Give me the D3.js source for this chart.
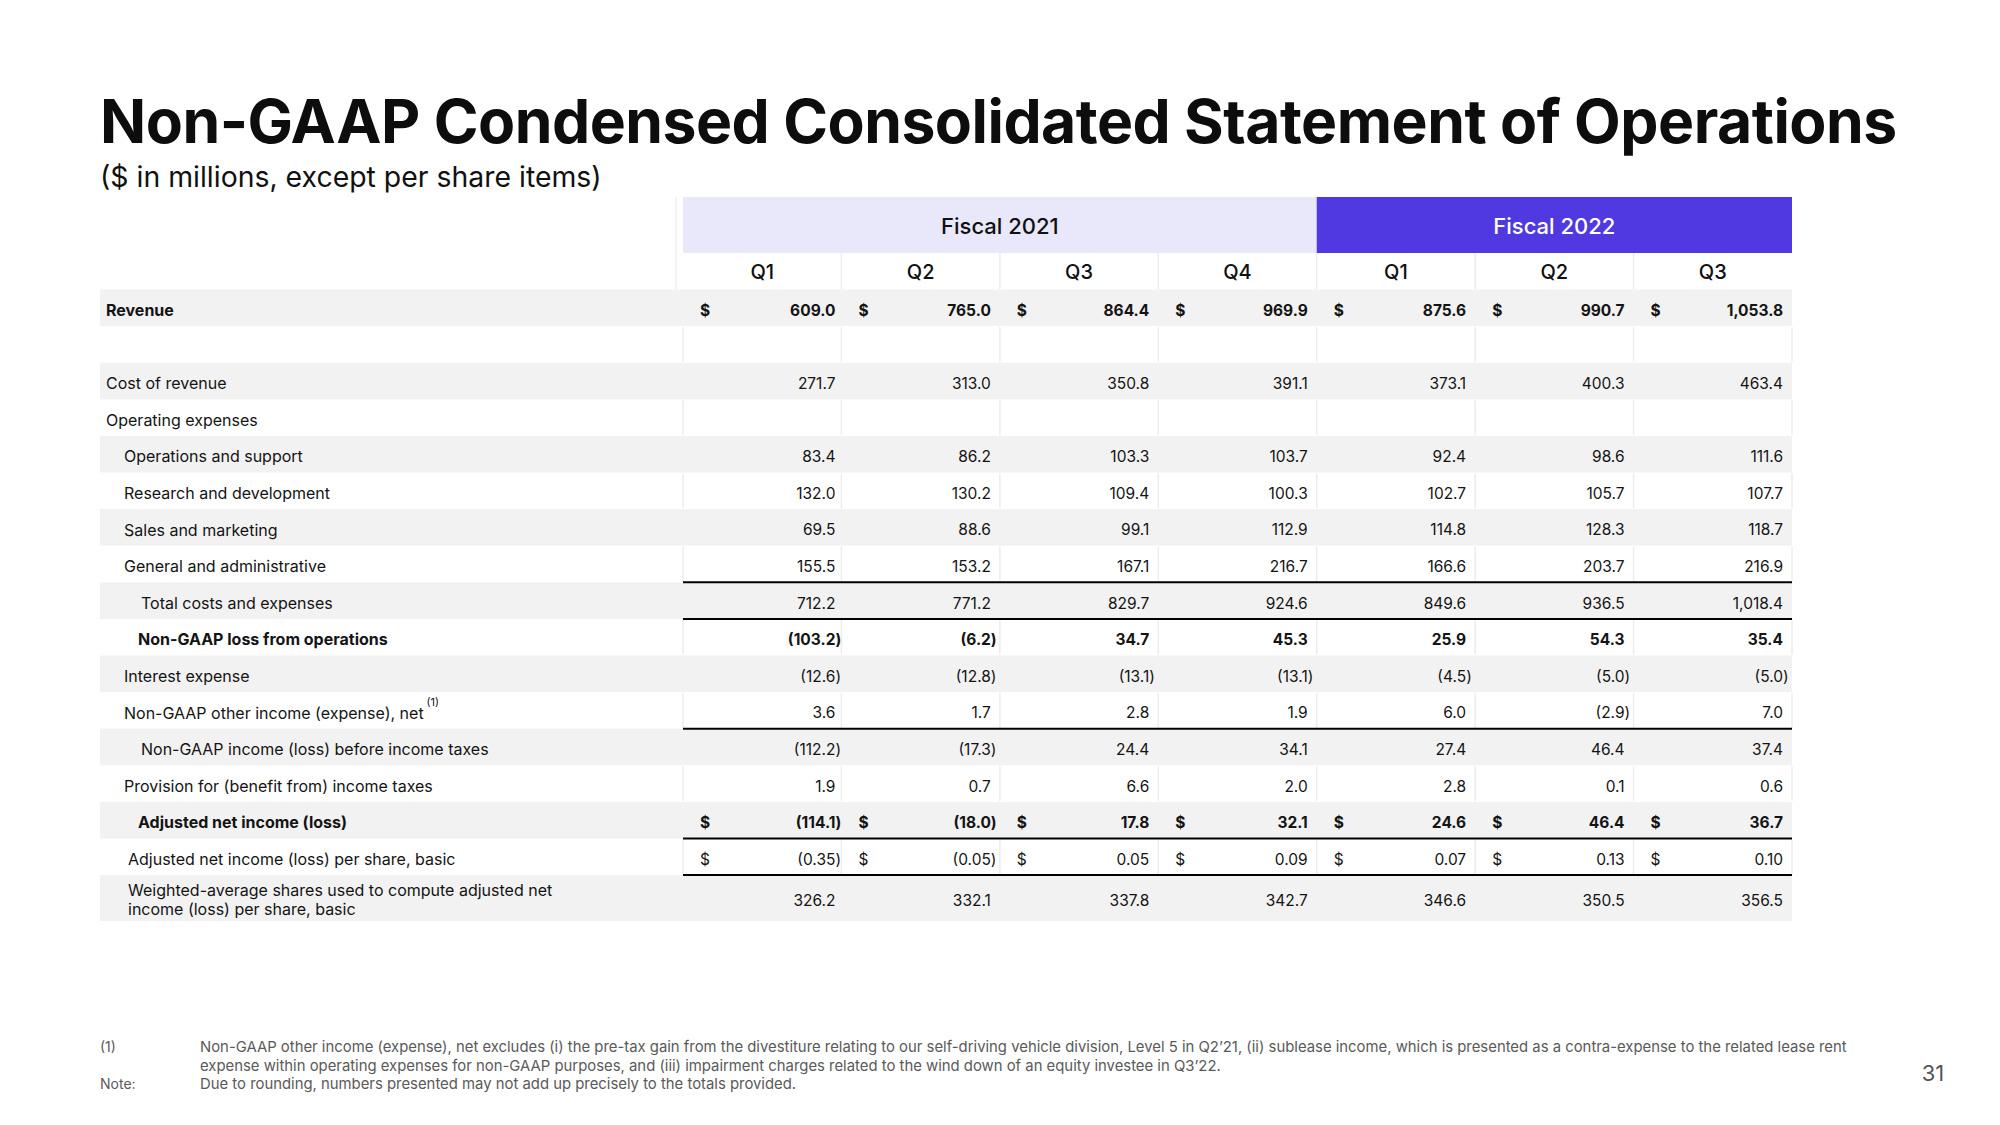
<!DOCTYPE html>
<html><head><meta charset="utf-8">
<script src="https://cdn.jsdelivr.net/npm/d3@7"></script>
<style>
html,body{margin:0;padding:0;background:#fff;}
svg{display:block;}
text{font-family:Inter,"Noto Sans",sans-serif;}
</style></head>
<body>
<svg id="chart" width="2000" height="1125"></svg>
<script>
// ---------- DATA ----------
const title = "Non-GAAP Condensed Consolidated Statement of Operations";
const subtitle = "($ in millions, except per share items)";
const fiscalYears = ["Fiscal 2021", "Fiscal 2022"];
const fiscalSpans = [4, 3];
const quarters = ["Q1", "Q2", "Q3", "Q4", "Q1", "Q2", "Q3"];
const rowLabels = [
  "Revenue", "", "Cost of revenue", "Operating expenses", "Operations and support",
  "Research and development", "Sales and marketing", "General and administrative",
  "Total costs and expenses", "Non-GAAP loss from operations", "Interest expense",
  "Non-GAAP other income (expense), net", "Non-GAAP income (loss) before income taxes",
  "Provision for (benefit from) income taxes", "Adjusted net income (loss)",
  "Adjusted net income (loss) per share, basic",
  "Weighted-average shares used to compute adjusted net|income (loss) per share, basic"
];
const revenue        = [609.0, 765.0, 864.4, 969.9, 875.6, 990.7, 1053.8];
const costOfRevenue  = [271.7, 313.0, 350.8, 391.1, 373.1, 400.3, 463.4];
const opsSupport     = [83.4, 86.2, 103.3, 103.7, 92.4, 98.6, 111.6];
const researchDev    = [132.0, 130.2, 109.4, 100.3, 102.7, 105.7, 107.7];
const salesMarketing = [69.5, 88.6, 99.1, 112.9, 114.8, 128.3, 118.7];
const generalAdmin   = [155.5, 153.2, 167.1, 216.7, 166.6, 203.7, 216.9];
const totalCosts     = [712.2, 771.2, 829.7, 924.6, 849.6, 936.5, 1018.4];
const lossFromOps    = [-103.2, -6.2, 34.7, 45.3, 25.9, 54.3, 35.4];
const interestExp    = [-12.6, -12.8, -13.1, -13.1, -4.5, -5.0, -5.0];
const otherIncome    = [3.6, 1.7, 2.8, 1.9, 6.0, -2.9, 7.0];
const beforeTaxes    = [-112.2, -17.3, 24.4, 34.1, 27.4, 46.4, 37.4];
const provisionTax   = [1.9, 0.7, 6.6, 2.0, 2.8, 0.1, 0.6];
const adjNetIncome   = [-114.1, -18.0, 17.8, 32.1, 24.6, 46.4, 36.7];
const perShareBasic  = [-0.35, -0.05, 0.05, 0.09, 0.07, 0.13, 0.10];
const weightedShares = [326.2, 332.1, 337.8, 342.7, 346.6, 350.5, 356.5];
const footnote1 = [
  "Non-GAAP other income (expense), net excludes (i) the pre-tax gain from the divestiture relating to our self-driving vehicle division, Level 5 in Q2\u201921, (ii) sublease income, which is presented as a contra-expense to the related lease rent",
  "expense within operating expenses for non-GAAP purposes, and (iii) impairment charges related to the wind down of an equity investee in Q3\u201922."
];
const noteText = "Due to rounding, numbers presented may not add up precisely to the totals provided.";
const pageNumber = "31";

// ---------- TABLE MODEL ----------
const rowValues = [revenue, null, costOfRevenue, null, opsSupport, researchDev, salesMarketing,
  generalAdmin, totalCosts, lossFromOps, interestExp, otherIncome, beforeTaxes, provisionTax,
  adjNetIncome, perShareBasic, weightedShares];
// style config (layout only)
const indentX = [106, 106, 106, 106, 124, 124, 124, 124, 141, 138, 124, 124, 141, 124, 138, 128, 128];
const boldRows = new Set([0, 9, 14]);
const dollarRows = new Set([0, 14, 15]);
const decimals2 = new Set([15]);
const ruleAboveRows = [8, 9, 12, 15, 16];

const svg = d3.select("#chart");

// ---------- SCALES ----------
const x = d3.scaleBand().domain(d3.range(quarters.length)).range([683, 1792]).padding(0);
const rowH = 36.6, top0 = 289.5, lastH = 46;
const y = d3.scaleBand().domain(d3.range(16)).range([top0, top0 + 16 * rowH]).padding(0);
const rowTop = i => i < 16 ? y(i) : top0 + 16 * rowH;
const rowHeight = i => i < 16 ? y.bandwidth() : lastH;
const textShift = 2.5;

// ---------- TITLE ----------
function fitText(sel, width) {
  const w = sel.node().getComputedTextLength();
  const fs = parseFloat(sel.attr("font-size"));
  sel.attr("font-size", fs * width / w);
}
const t = svg.append("text").attr("x", 100).attr("y", 143).attr("font-size", 56)
  .attr("font-weight", 700).attr("fill", "#0d0d0d").attr("letter-spacing", -0.5).text(title);
fitText(t, 1795);
const st = svg.append("text").attr("x", 100).attr("y", 187).attr("font-size", 27)
  .attr("fill", "#111").text(subtitle);
fitText(st, 502);

// ---------- HEADER ----------
let colStart = 0;
fiscalYears.forEach((fy, k) => {
  const x0 = x(colStart), x1 = x(colStart + fiscalSpans[k] - 1) + x.bandwidth();
  svg.append("rect").attr("x", x0).attr("y", 197).attr("width", x1 - x0).attr("height", 56)
    .attr("fill", k === 0 ? "#e8e8fa" : "#5139e1");
  svg.append("text").attr("x", (x0 + x1) / 2).attr("y", 226).attr("dy", "0.35em")
    .attr("text-anchor", "middle").attr("font-size", 22).attr("font-weight", 500)
    .attr("fill", k === 0 ? "#111" : "#fff").text(fy);
  colStart += fiscalSpans[k];
});
svg.selectAll(".qlbl").data(quarters).join("text").attr("class", "qlbl")
  .attr("x", (d, i) => x(i) + x.bandwidth() / 2).attr("y", 272).attr("dy", "0.35em")
  .attr("text-anchor", "middle").attr("font-size", 20).attr("font-weight", 500)
  .attr("fill", "#111").text(d => d);
svg.selectAll(".qdiv").data(d3.range(1, quarters.length)).join("line").attr("class", "qdiv")
  .attr("x1", i => x(i)).attr("x2", i => x(i)).attr("y1", 253).attr("y2", 289)
  .attr("stroke", "#ececec").attr("stroke-width", 1.5);
svg.append("line").attr("x1", 676).attr("x2", 676).attr("y1", 197).attr("y2", 289)
  .attr("stroke", "#f0f0f0").attr("stroke-width", 1.5);

// ---------- ROW BACKGROUNDS ----------
const allRows = d3.range(rowLabels.length);
svg.selectAll(".rowbg").data(allRows.filter(i => i % 2 === 0)).join("rect").attr("class", "rowbg")
  .attr("x", 100).attr("y", i => rowTop(i)).attr("width", 1792 - 100).attr("height", i => rowHeight(i))
  .attr("fill", "#f2f2f2");
// faint dividers in white rows
allRows.filter(i => i % 2 === 1).forEach(i => {
  svg.selectAll(null).data(d3.range(0, quarters.length + 1)).join("line")
    .attr("x1", c => c < quarters.length ? x(c) : 1792).attr("x2", c => c < quarters.length ? x(c) : 1792)
    .attr("y1", rowTop(i) + 1).attr("y2", rowTop(i) + rowHeight(i) - 1)
    .attr("stroke", "#ececec").attr("stroke-width", 1.5);
});

// ---------- LABELS ----------
allRows.forEach(i => {
  const lbl = rowLabels[i];
  if (!lbl) return;
  const cy = rowTop(i) + rowHeight(i) / 2 + textShift;
  const parts = lbl.split("|");
  const g = svg.append("text").attr("x", indentX[i]).attr("font-size", 16)
    .attr("font-weight", boldRows.has(i) ? 700 : 400).attr("fill", "#141414");
  if (parts.length === 1) {
    g.attr("y", cy).attr("dy", "0.35em").text(lbl);
  } else {
    parts.forEach((p, k) => g.append("tspan").attr("x", indentX[i])
      .attr("y", cy - 1 + (k - 0.5) * 19).attr("dy", "0.35em").text(p));
  }
  if (i === 11) {
    const w = g.node().getComputedTextLength();
    svg.append("text").attr("x", indentX[i] + w + 3).attr("y", cy - 7).attr("font-size", 11)
      .attr("fill", "#141414").text("(1)");
  }
});

// ---------- VALUES ----------
const f1 = d3.format(",.1f"), f2 = d3.format(",.2f");
allRows.forEach(i => {
  const vals = rowValues[i];
  if (!vals) return;
  const cy = rowTop(i) + rowHeight(i) / 2 + textShift;
  const fmt = decimals2.has(i) ? f2 : f1;
  const weight = boldRows.has(i) ? 700 : 400;
  vals.forEach((v, c) => {
    const right = x(c) + x.bandwidth() - (c === 0 ? 6 : 9);
    const s = fmt(Math.abs(v));
    svg.append("text").attr("x", right).attr("y", cy).attr("dy", "0.35em")
      .attr("text-anchor", "end").attr("font-size", 15.5).attr("font-weight", weight)
      .attr("fill", "#141414").text(v < 0 ? "(" + s : s);
    if (v < 0) {
      svg.append("text").attr("x", right).attr("y", cy).attr("dy", "0.35em")
        .attr("font-size", 15.5).attr("font-weight", weight).attr("fill", "#141414").text(")");
    }
    if (dollarRows.has(i)) {
      svg.append("text").attr("x", x(c) + 17).attr("y", cy).attr("dy", "0.35em")
        .attr("font-size", 15.5).attr("font-weight", weight).attr("fill", "#141414").text("$");
    }
  });
});

// ---------- RULES ----------
svg.selectAll(".rule").data(ruleAboveRows).join("line").attr("class", "rule")
  .attr("x1", x(0)).attr("x2", 1792).attr("y1", i => rowTop(i)).attr("y2", i => rowTop(i))
  .attr("stroke", "#000").attr("stroke-width", 2);

// ---------- FOOTNOTES ----------
const fnColor = "#5a5a5a";
svg.append("text").attr("x", 100).attr("y", 1047).attr("dy", "0.35em").attr("font-size", 14)
  .attr("fill", fnColor).text("(1)");
const fnl = svg.append("text").attr("x", 200).attr("y", 1047).attr("dy", "0.35em")
  .attr("font-size", 14).attr("fill", fnColor).text(footnote1[0]);
fitText(fnl, 1648);
const fsz = fnl.attr("font-size");
svg.append("text").attr("x", 200).attr("y", 1065.5).attr("dy", "0.35em").attr("font-size", fsz)
  .attr("fill", fnColor).text(footnote1[1]);
svg.append("text").attr("x", 100).attr("y", 1084).attr("dy", "0.35em").attr("font-size", 14)
  .attr("fill", fnColor).text("Note:");
svg.append("text").attr("x", 200).attr("y", 1084).attr("dy", "0.35em").attr("font-size", fsz)
  .attr("fill", fnColor).text(noteText);
svg.append("text").attr("x", 1933).attr("y", 1073).attr("dy", "0.35em").attr("text-anchor", "middle")
  .attr("font-size", 22).attr("fill", "#555").text(pageNumber);
</script>
</body></html>
